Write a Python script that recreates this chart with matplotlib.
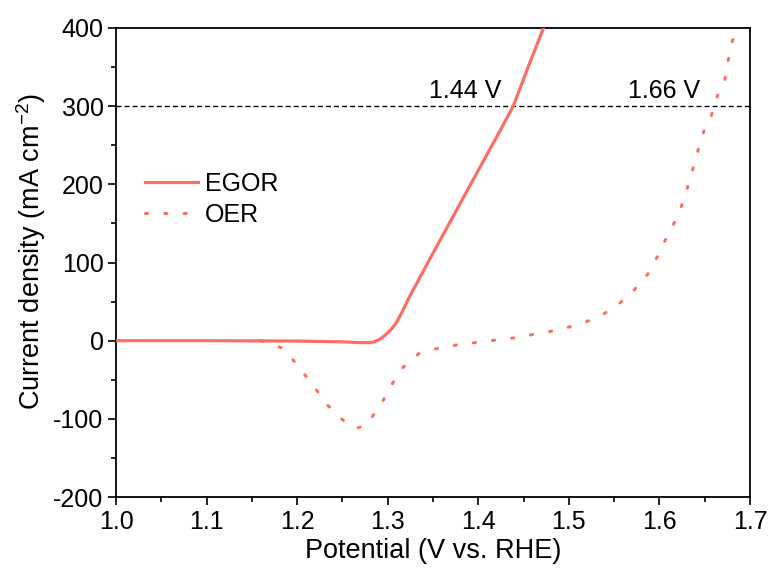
import numpy as np
import matplotlib
matplotlib.use('Agg')
import matplotlib.pyplot as plt
from matplotlib.ticker import MultipleLocator, FormatStrFormatter

plt.rcParams['font.family'] = ['Liberation Sans', 'DejaVu Sans']
plt.rcParams['mathtext.fontset'] = 'custom'
plt.rcParams['mathtext.rm'] = 'Liberation Sans'
plt.rcParams['axes.unicode_minus'] = False

# EGOR polarization curve (solid)
egor_v = [1.00, 1.10, 1.20, 1.25, 1.27, 1.28, 1.285, 1.29, 1.295, 1.30, 1.305,
          1.31, 1.316, 1.3226, 1.33, 1.35, 1.375, 1.40, 1.42, 1.4386, 1.455, 1.472]
egor_j = [0, 0, -0.5, -1.5, -2.5, -2.5, -1.5, 1, 5, 10, 16,
          24, 37, 53, 69, 112, 165, 218, 260, 300, 350, 400]

# OER polarization curve (dotted)
oer_v = [1.16, 1.185, 1.202, 1.218, 1.234, 1.2545, 1.265, 1.275, 1.291, 1.302, 1.315,
         1.335, 1.358, 1.379, 1.40, 1.421, 1.442, 1.4635, 1.485, 1.507, 1.5275,
         1.549, 1.570, 1.587, 1.599, 1.609, 1.616, 1.624, 1.631, 1.637, 1.643,
         1.649, 1.657, 1.664, 1.6724, 1.676, 1.6806, 1.685]
oer_j = [0, -10, -34, -58, -83, -106, -112, -109, -85, -61, -36,
         -16, -9, -5, -2, 1, 4, 8.6, 13, 19.5, 27.7,
         41, 62, 85, 110, 135, 150, 171, 196, 220, 245,
         268, 287, 313, 335, 359, 384, 396]

ref_j = 300
onset_labels = ['1.44 V', '1.66 V']
onset_x = [1.385, 1.605]

red = '#fb6f64'

fig = plt.figure(figsize=(7.72, 5.69), dpi=100)
ax = fig.add_axes([0.1503, 0.1265, 0.8212, 0.8243])

ax.axhline(ref_j, color='black', lw=1.0, dashes=(3.6, 2.2), zorder=1)
ax.plot(egor_v, egor_j, color=red, lw=2.3, label='EGOR', zorder=3,
        solid_joinstyle='round')
ax.plot(oer_v, oer_j, color=red, lw=2.2, dashes=(0.7, 5.6),
        dash_capstyle='round', label='OER', zorder=2)

for txt, xv in zip(onset_labels, onset_x):
    ax.text(xv, ref_j + 4, txt, ha='center', va='bottom', fontsize=18)

ax.set_xlim(1.0, 1.7)
ax.set_ylim(-200, 400)
ax.xaxis.set_major_locator(MultipleLocator(0.1))
ax.xaxis.set_minor_locator(MultipleLocator(0.05))
ax.yaxis.set_major_locator(MultipleLocator(100))
ax.yaxis.set_minor_locator(MultipleLocator(50))
ax.xaxis.set_major_formatter(FormatStrFormatter('%.1f'))

ax.tick_params(which='major', direction='out', length=6, width=1.2, labelsize=18, pad=3)
ax.tick_params(which='minor', direction='out', length=3.5, width=1.2)
for s in ax.spines.values():
    s.set_linewidth(1.3)

ax.set_xlabel('Potential (V vs. RHE)', fontsize=19.5, labelpad=3)
ax.set_ylabel('Current density (mA cm$^{-2}$)', fontsize=19.5)
ax.yaxis.set_label_coords(-0.108, 0.524)

ax.legend(loc='upper left', bbox_to_anchor=(0.046, 0.694), frameon=False,
          fontsize=18, handlelength=2.1, handletextpad=0.3, labelspacing=0.3,
          borderpad=0, borderaxespad=0)

plt.savefig('out.png', dpi=100)
